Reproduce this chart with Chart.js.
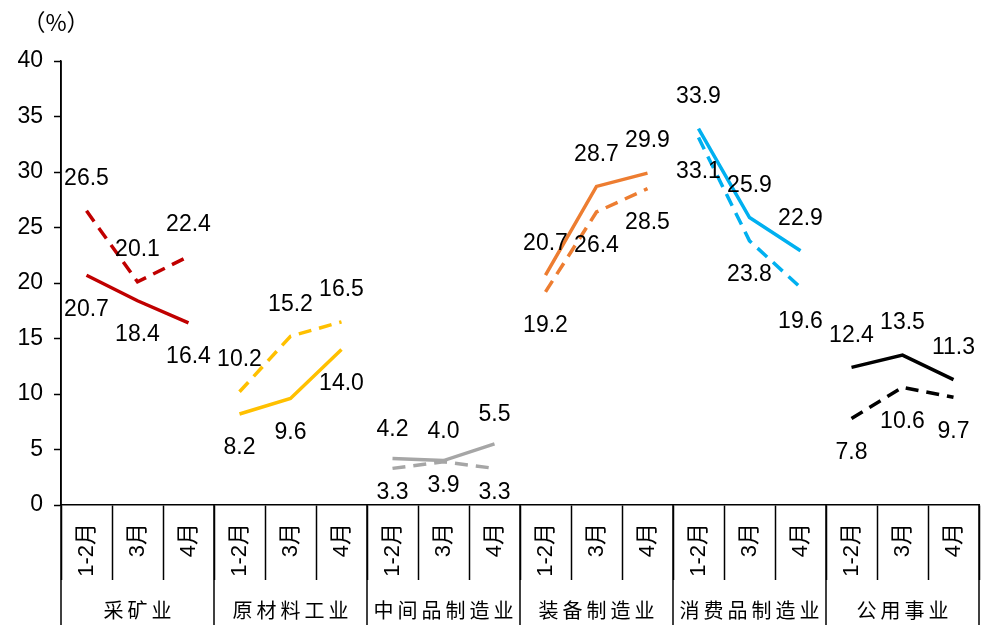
<!DOCTYPE html>
<html>
<head>
<meta charset="utf-8">
<script src="https://cdn.jsdelivr.net/npm/chart.js@4/dist/chart.umd.min.js"></script>
<style>
  html, body { margin: 0; padding: 0; background: #fff; }
  #wrap { width: 987px; height: 625px; position: relative; }
</style>
</head>
<body>
<div id="wrap"><canvas id="c"></canvas></div>
<script>
// Industry groups and the months reported for each
const groups = ['采矿业', '原材料工业', '中间品制造业', '装备制造业', '消费品制造业', '公用事业'];
const months = ['1-2月', '3月', '4月'];

// Growth rates (%), three months per group, in group order
const solidValues  = [20.7, 18.4, 16.4,  8.2, 9.6, 14.0,  4.2, 4.0, 5.5,  20.7, 28.7, 29.9,  33.9, 25.9, 22.9,  12.4, 13.5, 11.3];
const dashedValues = [26.5, 20.1, 22.4,  10.2, 15.2, 16.5,  3.3, 3.9, 3.3,  19.2, 26.4, 28.5,  33.1, 23.8, 19.6,  7.8, 10.6, 9.7];

// Y-axis ticks
const yTicks = [0, 5, 10, 15, 20, 25, 30, 35, 40];

// Styling per group
const groupColors = ['#C00000', '#FFC000', '#A6A6A6', '#ED7D31', '#00B0F0', '#000000'];
const solidLabelSide = ['below', 'below', 'above', 'above', 'above', 'above'];
// label distance from the point (px): [above, below]
const labelGap = [[32, 34], [32, 34], [29, 24], [32, 34], [32, 34], [32, 34]];

const categoryLabels = [];
groups.forEach(() => months.forEach(m => categoryLabels.push(m)));

const FONT_NUM = 'Liberation Sans, Arial, sans-serif';
const FONT_CJK = '"Noto Sans CJK SC", sans-serif';

// One solid and one dashed line per group, blank outside the group
const datasets = [];
groups.forEach((g, gi) => {
  const n = months.length;
  const pick = arr => arr.map((v, i) => (Math.floor(i / n) === gi ? v : null));
  datasets.push({
    label: g + ' 实线',
    data: pick(solidValues),
    borderColor: groupColors[gi],
    borderWidth: 3.5,
    pointRadius: 0,
    tension: 0,
    spanGaps: false,
    labelSide: solidLabelSide[gi],
    group: gi
  });
  datasets.push({
    label: g + ' 虚线',
    data: pick(dashedValues),
    borderColor: groupColors[gi],
    borderWidth: 3.5,
    borderDash: [13, 8],
    pointRadius: 0,
    tension: 0,
    spanGaps: false,
    labelSide: solidLabelSide[gi] === 'above' ? 'below' : 'above',
    group: gi
  });
});

// Value labels next to each point
const valueLabels = {
  id: 'valueLabels',
  afterDatasetsDraw(chart) {
    const ctx = chart.ctx;
    ctx.save();
    ctx.font = '23px ' + FONT_NUM;
    ctx.fillStyle = '#000';
    ctx.textAlign = 'center';
    ctx.textBaseline = 'middle';
    chart.data.datasets.forEach((ds, di) => {
      const meta = chart.getDatasetMeta(di);
      const gap = labelGap[ds.group];
      ds.data.forEach((v, i) => {
        if (v === null) return;
        const pt = meta.data[i];
        const dy = ds.labelSide === 'above' ? -gap[0] : gap[1];
        ctx.fillText(v.toFixed(1), pt.x, pt.y + dy);
      });
    });
    ctx.restore();
  }
};

// Group separators, group names and the unit label
const groupAxis = {
  id: 'groupAxis',
  afterDraw(chart) {
    const ctx = chart.ctx;
    const xs = chart.scales.x;
    const area = chart.chartArea;
    const half = (xs.getPixelForValue(1) - xs.getPixelForValue(0)) / 2;
    const n = months.length;
    ctx.save();
    ctx.strokeStyle = '#000';
    ctx.lineWidth = 1.5;
    for (let g = 0; g <= groups.length; g++) {
      const idx = g * n;
      const x = idx < categoryLabels.length ? xs.getPixelForValue(idx) - half : xs.getPixelForValue(idx - 1) + half;
      ctx.beginPath();
      ctx.moveTo(x, g === 0 ? area.top : area.bottom);
      ctx.lineTo(x, chart.height);
      ctx.stroke();
    }
    ctx.fillStyle = '#000';
    ctx.font = '20px ' + FONT_CJK;
    ctx.textAlign = 'center';
    ctx.textBaseline = 'middle';
    ctx.letterSpacing = '4px';
    groups.forEach((g, gi) => {
      const cx = xs.getPixelForValue(gi * n + 1);
      ctx.fillText(g, cx + 2, 610);
    });
    ctx.letterSpacing = '0px';
    ctx.font = '23px ' + FONT_CJK;
    ctx.fillText('（%）', 56, 22);
    ctx.restore();
  }
};

new Chart(document.getElementById('c'), {
  type: 'line',
  data: { labels: categoryLabels, datasets },
  options: {
    responsive: true,
    maintainAspectRatio: false,
    animation: false,
    layout: { padding: { top: 61, right: 8, left: 0, bottom: 0 } },
    plugins: {
      legend: { display: false },
      tooltip: { enabled: false }
    },
    scales: {
      x: {
        type: 'category',
        offset: true,
        grid: {
          offset: true,
          drawOnChartArea: false,
          drawTicks: true,
          tickLength: 75,
          tickColor: '#000',
          tickWidth: 1.5
        },
        border: { display: true, color: '#000', width: 1.5 },
        ticks: {
          autoSkip: false,
          minRotation: 90,
          maxRotation: 90,
          padding: -57,
          color: '#000',
          font: { family: 'Liberation Sans, "Noto Sans CJK SC", sans-serif', size: 22 }
        },
        afterFit(scale) { scale.height = 120; }
      },
      y: {
        min: 0,
        max: 40,
        afterBuildTicks(scale) { scale.ticks = yTicks.map(v => ({ value: v })); },
        grid: {
          drawOnChartArea: false,
          drawTicks: true,
          tickLength: 7,
          tickColor: '#000',
          tickWidth: 1.5
        },
        border: { display: true, color: '#000', width: 1.5 },
        ticks: {
          padding: 11,
          color: '#000',
          font: { family: FONT_NUM, size: 23 }
        },
        afterFit(scale) { scale.width = 61; }
      }
    }
  },
  plugins: [valueLabels, groupAxis]
});
</script>
</body>
</html>
